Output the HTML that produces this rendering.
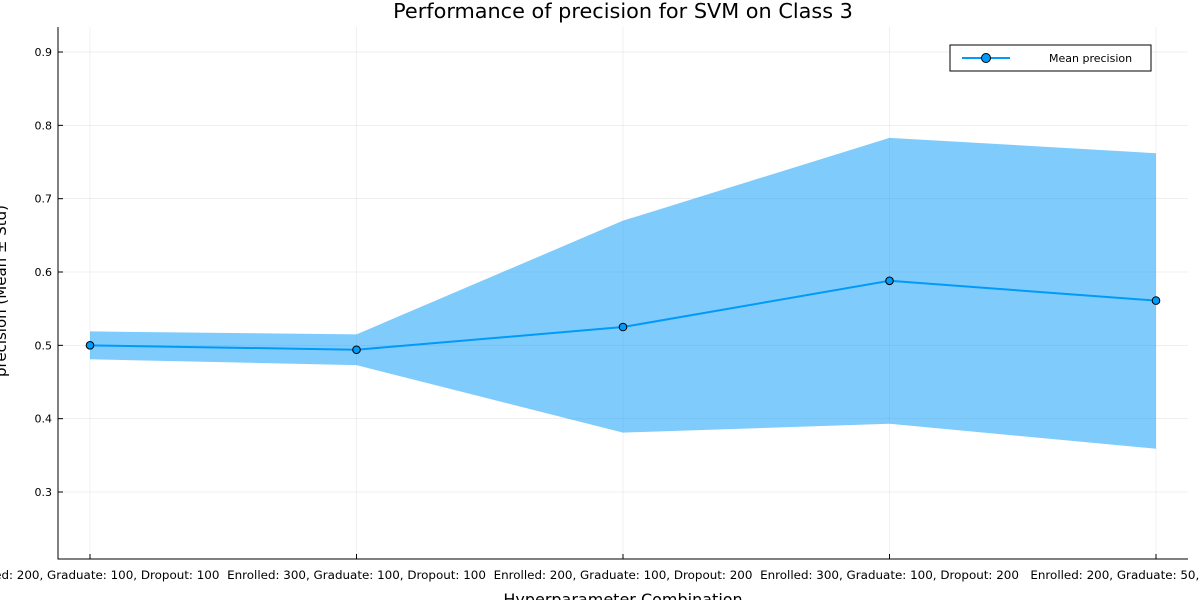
<!DOCTYPE html>
<html><head><meta charset="utf-8"><style>
body{margin:0;background:#fff;}
svg{display:block;font-family:"DejaVu Sans","Liberation Sans",sans-serif;}
</style></head><body>
<svg id="chart" width="1200" height="600">
<rect width="1200" height="600" fill="#fff"/>
<text x="623" y="18" text-anchor="middle" font-size="20.8" fill="#000">Performance of precision for SVM on Class 3</text>
<g id="grid"></g>
<g id="band"></g>
<g id="axes"></g>
<g id="marks"></g>
<text x="623" y="605" text-anchor="middle" font-size="16">Hyperparameter Combination</text>
<text transform="translate(6,291) rotate(-90)" text-anchor="middle" font-size="15">precision (Mean ± Std)</text>
<g>
<rect x="950" y="45" width="201" height="26" fill="#fff" stroke="#000" stroke-width="1"/>
<line x1="962" y1="58" x2="1010" y2="58" stroke="#009af9" stroke-width="2"/>
<circle cx="986" cy="58" r="4.5" fill="#009af9" stroke="#000" stroke-width="1"/>
<text x="1049" y="62" font-size="11">Mean precision</text>
</g>
</svg>
<script>
const categories=["Enrolled: 200, Graduate: 100, Dropout: 100","Enrolled: 300, Graduate: 100, Dropout: 100","Enrolled: 200, Graduate: 100, Dropout: 200","Enrolled: 300, Graduate: 100, Dropout: 200","Enrolled: 200, Graduate: 50, Dropout: 200"];
const meanVals=[0.500,0.494,0.525,0.588,0.561];
const upperVals=[0.519,0.515,0.670,0.783,0.762];
const lowerVals=[0.481,0.473,0.381,0.393,0.359];
const yTicks=[0.3,0.4,0.5,0.6,0.7,0.8,0.9];
const NS="http://www.w3.org/2000/svg";
const L=58,R=1188,T=27,B=559;
const x=i=>90+i*266.5;
const y=v=>492-(v-0.3)*733.3;
function mk(tag,attrs,parent){const e=document.createElementNS(NS,tag);for(const k in attrs)e.setAttribute(k,attrs[k]);document.getElementById(parent).appendChild(e);return e;}
yTicks.forEach(t=>{
 const g=mk('line',{x1:L,x2:R,y1:y(t),y2:y(t),stroke:'#000','stroke-opacity':0.1,'stroke-width':0.6},'grid');
 
 
 const tk=mk('line',{x1:L,x2:L+5,y1:y(t),y2:y(t),stroke:'#000'},'axes');
 
 
 const tx=mk('text',{x:L-6,y:y(t)+4,'text-anchor':'end','font-size':11},'axes');
 tx.textContent=t.toFixed(1);
 
 
});
categories.forEach((c,i)=>{
 const g=mk('line',{x1:x(i),x2:x(i),y1:T,y2:B,stroke:'#000','stroke-opacity':0.1,'stroke-width':0.6},'grid');
 
 
 const tk=mk('line',{x1:x(i),x2:x(i),y1:B,y2:B-5,stroke:'#000'},'axes');
 
 
 const tx=mk('text',{x:x(i),y:B+20,'text-anchor':'middle','font-size':11.9},'axes');
 tx.textContent=c;
 
 
});
const ax=mk('path',{d:`M${L},${T}V${B}H${R}`,fill:'none',stroke:'#000','stroke-width':1},'axes');


let d=upperVals.map((v,i)=>(i?'L':'M')+x(i)+','+y(v)).join('');
for(let i=lowerVals.length-1;i>=0;i--)d+='L'+x(i)+','+y(lowerVals[i]);
const band=mk('path',{d:d+'Z',fill:'#009af9','fill-opacity':0.5},'band');


const line=mk('polyline',{points:meanVals.map((v,i)=>x(i)+','+y(v)).join(' '),fill:'none',stroke:'#009af9','stroke-width':2},'marks');


meanVals.forEach((v,i)=>{
 const c=mk('circle',{cx:x(i),cy:y(v),r:3.8,fill:'#009af9',stroke:'#000','stroke-width':1},'marks');
 
 
});
</script>
</body></html>
